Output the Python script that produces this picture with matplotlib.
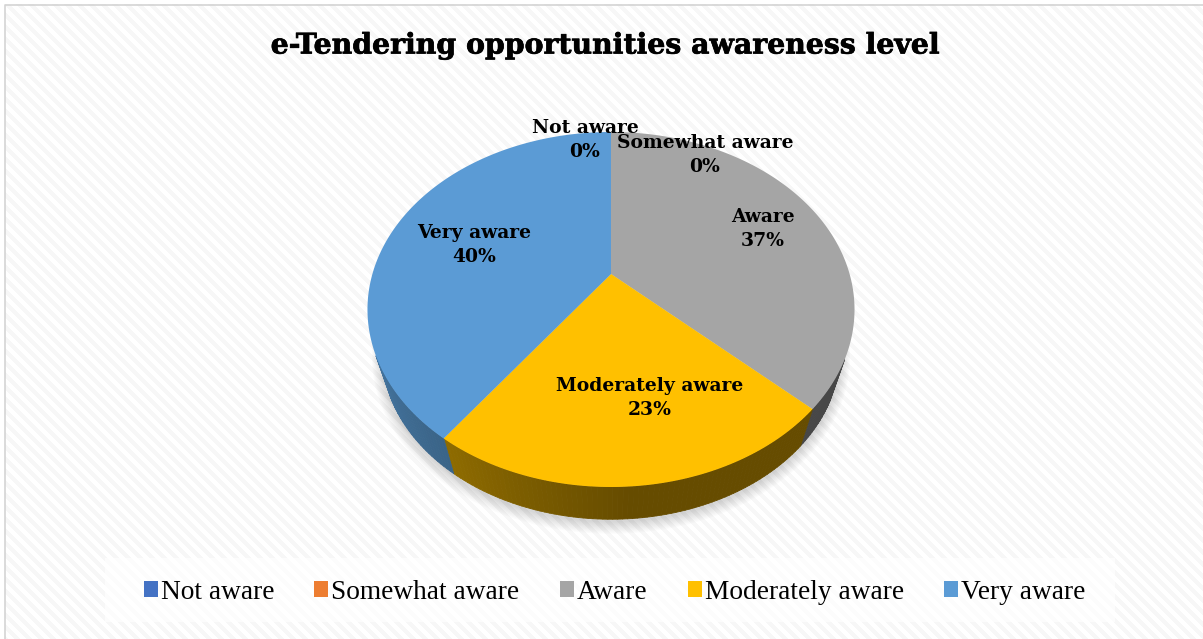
import numpy as np
import matplotlib
matplotlib.use("Agg")
import matplotlib.pyplot as plt
import matplotlib.patheffects as pe
from matplotlib.collections import PolyCollection
from matplotlib.patches import Rectangle, Patch
from matplotlib.colors import to_rgb

title = "e-Tendering opportunities awareness level"
categories = ["Not aware", "Somewhat aware", "Aware", "Moderately aware", "Very aware"]
values = [0, 0, 37, 23, 40]
colors = ["#4472c4", "#ed7d31", "#a5a5a5", "#ffc000", "#5b9bd5"]
label_xy = [(585, 140), (705, 155), (763, 229), (650, 398), (474, 245)]

W, H = 1203, 639
fig = plt.figure(figsize=(W / 100, H / 100), dpi=100)
ax = fig.add_axes([0, 0, 1, 1])
ax.set_xlim(0, W)
ax.set_ylim(H, 0)
ax.axis("off")

# background texture
yy, xx = np.mgrid[0:H, 0:W]
tex = np.where(((xx - yy) % 12) < 6, 0.965, 1.0)
tex[:4, :] = 1.0
tex[:, :5] = 1.0
ax.imshow(tex, cmap="gray", vmin=0, vmax=1, extent=(0, W, H, 0), aspect="auto",
          interpolation="nearest", zorder=0)
ax.set_xlim(0, W)
ax.set_ylim(H, 0)
ax.plot([5, 5, W], [H, 4.5, 4.5], color="#d4d4d4", lw=1.2, zorder=1)
ax.add_patch(Rectangle((105, 558), 1010, 64, fc="white", ec="none", alpha=0.72, zorder=1))

# perspective pie projection
CX, CY, A, B, K = 611.0, 274.0, 170.4, 238.6, 0.2


def project(theta, scale=1.0, dy=0.0, grow=0.0):
    x, y = np.sin(theta), np.cos(theta)
    d = 1 + K * y
    return np.column_stack([CX + (scale * B + grow) * x / d,
                            CY + dy - (scale * A + grow) * y / d])


RIM_S, RIM_DY = 0.94, 45.0
full = np.radians(np.linspace(0, 360, 361))

# soft shadow
for g in range(10, 0, -1):
    ax.fill(*project(full, RIM_S, RIM_DY + 2, g).T, color="black", alpha=0.016, lw=0, zorder=2)

fractions = np.array(values) / sum(values)
starts = np.concatenate([[0], np.cumsum(fractions)[:-1]]) * 2 * np.pi
ends = starts + fractions * 2 * np.pi

side_dark = {"#a5a5a5": ("#474747", "#474747"),
             "#ffc000": ("#8f6c00", "#664c00"),
             "#5b9bd5": ("#3a6488", "#4a7dab")}

# extruded side (front part only)
for c, t0, t1 in zip(colors, starts, ends):
    if t1 <= t0:
        continue
    th = np.linspace(t0, t1, max(int(np.degrees(t1 - t0)), 2) + 1)
    top = project(th)
    bot = project(th, RIM_S, RIM_DY)
    c0, c1 = (np.array(to_rgb(v)) for v in side_dark[c])
    quads, fc = [], []
    for i in range(len(th) - 1):
        if np.cos(th[i]) > -0.45:
            continue
        quads.append([top[i], top[i + 1], bot[i + 1], bot[i]])
        if c == "#ffc000":
            f = min(1.0, (t1 - th[i]) / np.radians(40))
        else:
            f = min(1.0, (th[i] - t0) / np.radians(50))
        fc.append(c0 * (1 - f) + c1 * f)
    ax.add_collection(PolyCollection(quads, facecolors=fc, edgecolors=fc, linewidths=0.6, zorder=3))

# top face
for c, t0, t1 in zip(colors, starts, ends):
    if t1 <= t0:
        continue
    th = np.linspace(t0, t1, max(int(np.degrees(t1 - t0)), 2) + 1)
    pts = np.vstack([[CX, CY], project(th)])
    ax.fill(pts[:, 0], pts[:, 1], color=c, lw=0, zorder=4)

# data labels
for cat, v, (lx, ly) in zip(categories, values, label_xy):
    ax.text(lx, ly, f"{cat}\n{v}%", ha="center", va="center", fontsize=13.5,
            family="DejaVu Serif", fontweight="bold", color="black", linespacing=1.42, zorder=6)

t = ax.text(605.5, 46, title, ha="center", va="center", fontsize=20.4,
            family="DejaVu Serif", fontweight="bold", color="black", zorder=6)
t.set_path_effects([pe.withStroke(linewidth=0.5, foreground="black")])

handles = [Patch(fc=c, ec="none") for c in colors]
fig.legend(handles, categories, loc="center", bbox_to_anchor=(614.5 / W, 1 - 592.5 / H), ncol=5,
           frameon=False, prop={"family": "Liberation Serif", "size": 19.7},
           handlelength=0.51, handleheight=0.51, handletextpad=0.11, columnspacing=1.47,
           borderpad=0, labelcolor="black")

fig.savefig("out.png", dpi=100)
